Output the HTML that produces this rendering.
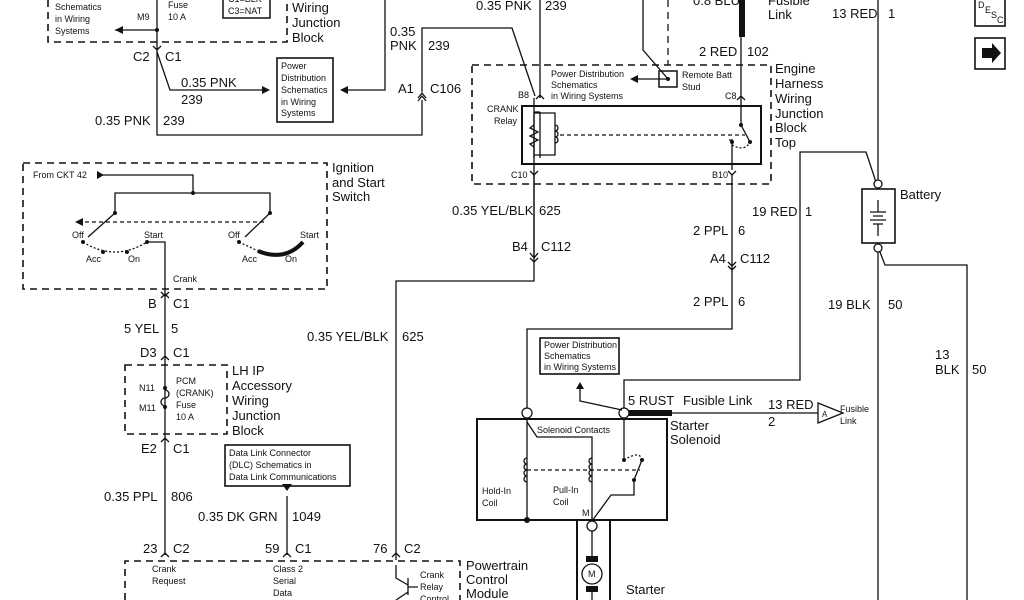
<!DOCTYPE html>
<html><head><meta charset="utf-8"><style>
html,body{margin:0;padding:0;background:#fff;}
svg{display:block;font-family:"Liberation Sans",Arial,sans-serif;}
.l{font-size:13px}
.s{font-size:9px}
.m{font-size:10.5px}
</style></head><body>
<svg width="1024" height="600" viewBox="0 0 1024 600" xmlns="http://www.w3.org/2000/svg">
<rect width="1024" height="600" fill="#fff"/>
<g stroke="#111" fill="none" stroke-width="1.3">
<path d="M48 0 V42 H287 V0" stroke-dasharray="7,5" stroke-width="1.6"/>
<path d="M157 0 V50 M157 30 H115"/>
<rect x="223" y="-5" width="47" height="23" stroke-width="1.5"/>
<path d="M157 50 V135 H422 V100"/>
<path d="M157 52 L170 90 H268"/>
<path d="M385 0 V90 H346"/>
<rect x="277" y="58" width="56" height="64" stroke-width="1.6"/>
<path d="M422 92 V28 H512 L535 96"/>
<path d="M418 98 L422 93 L426 98 M418 101 L422 96 L426 101"/>
<path d="M153 46 L157 50 L161 46"/>
<rect x="23" y="163" width="304" height="126" stroke-dasharray="7,5" stroke-width="1.6"/>
<path d="M100 175 H193 V193 M115 213 V193 H270 V213"/>
<path d="M115 213 L88 237 M270 213 L245 237"/>
<path d="M78 222 H265" stroke-dasharray="4,3"/>
<path d="M83 242 Q115 262 147 242 M239 242 L258 251" stroke-dasharray="2,2"/>
<path d="M258 251 Q285 262 303 242" stroke-width="4"/>
<path d="M147 242 H165 V296"/>
<path d="M161 292 L165 296 L169 292 M161 298 L165 294 L169 298"/>
<path d="M165 296 V434 M161 360 L165 356 L169 360"/>
<rect x="125" y="365" width="102" height="69" stroke-dasharray="7,5" stroke-width="1.6"/>
<path d="M165 434 V555 M161 442 L165 438 L169 442"/>
<path d="M161 557 L165 553 L169 557"/>
<rect x="225" y="445" width="125" height="41" stroke-width="1.6"/>
<path d="M287 496 V555 M283 557 L287 553 L291 557"/>
<path d="M534 164 V281 H396 V560"/>
<path d="M392 557 L396 553 L400 557"/>
<path d="M125 600 V561 H460 V600" stroke-dasharray="7,5" stroke-width="1.6"/>
<path d="M396 565 V578 L408 585 M408 578 V595 M408 587 H418 M396 600 L408 592"/>
<rect x="472" y="65" width="299" height="119" stroke-dasharray="7,5" stroke-width="1.6"/>
<rect x="522" y="106" width="239" height="58" stroke-width="2"/>
<path d="M540 0 V98 M534 98 V164 M536 99 L540 95 L544 99"/>
<path d="M540 112 V158 M534 112 H540"/>
<path d="M534 112 V158 M534 113 H555 V155 H534"/>
<path d="M534 125 l-4 3 8 4 -8 4 8 4 -8 4 4 3"/>
<path d="M555 125 a3 3 0 0 1 0 6 a3 3 0 0 1 0 6 a3 3 0 0 1 0 6"/>
<path d="M560 135 H745" stroke-dasharray="4,3"/>
<path d="M741 37 V125 L750 142 M732 142 V170 M729 140 H733"/>
<path d="M737 100 L741 96 L745 100 M728 171 L732 175 L736 171 M530 171 L534 175 L538 171"/>
<path d="M732 145 Q745 152 750 142" stroke-dasharray="2,2"/>
<path d="M668 0 V65" stroke-dasharray="7,5"/>
<path d="M643 0 V50 L668 79 H637"/>
<rect x="659" y="71" width="18" height="16" stroke-width="1.5"/>
<path d="M534 175 V258 M530 253 L534 258 L538 253 M530 258 L534 262 L538 258"/>
<path d="M732 175 V329 H527 V408 M728 262 L732 266 L736 262 M728 266 L732 270 L736 266"/>
<path d="M878 0 V183 M878 188 L866 152 H800 V380 H624 V408"/>
<rect x="862" y="189" width="33" height="54" stroke-width="1.6"/>
<path d="M878 200 V212 M870 212 H886 M873 216 H883 M870 220 H886 M873 224 H883 M878 224 V236"/>
<circle cx="878" cy="184" r="4" fill="#fff"/>
<circle cx="878" cy="248" r="4" fill="#fff"/>
<path d="M878 252 V600 M880 252 L885 265 H967 V600"/>
<rect x="477" y="419" width="190" height="101" stroke-width="2"/>
<circle cx="527" cy="413" r="5" fill="#fff"/>
<circle cx="624" cy="413" r="5" fill="#fff"/>
<path d="M622 410 L580 401 V387"/>
<path d="M672 413 H818"/>
<path d="M818 403 L843 413 L818 423 Z"/>
<rect x="540" y="338" width="79" height="36" stroke-width="1.6"/>
<path d="M527 418 V520 M527 422 L537 437 H592 V520 M624 418 V458"/>
<path d="M527 458 a3 3 0 0 0 0 6 a3 3 0 0 0 0 6 a3 3 0 0 0 0 6 a3 3 0 0 0 0 6 M592 458 a3 3 0 0 0 0 6 a3 3 0 0 0 0 6 a3 3 0 0 0 0 6 a3 3 0 0 0 0 6"/>
<path d="M527 470 H640" stroke-dasharray="4,3"/>
<path d="M624 460 Q640 450 642 460" stroke-dasharray="2,2"/>
<path d="M642 460 L634 480 V495 H611 L592 521"/>
<circle cx="592" cy="526" r="5" fill="#fff"/>
<path d="M577 520 V600 M610 520 V600" stroke-width="2"/>
<path d="M592 531 V560 M592 588 V600"/>
<circle cx="592" cy="574" r="10"/>
<rect x="975" y="-5" width="30" height="31" stroke-width="1.6"/>
<rect x="975" y="38" width="30" height="31" stroke-width="1.6"/>
</g>
<g fill="#111">
<path d="M115 30 l8 -4 v8 z M270 90 l-8 -4 v8 z M340 90 l8 -4 v8 z M630 79 l8 -4 v8 z M75 222 l8 -4 v8 z M97 171 v8 l7 -4 z M287 491 l-5 -7 h10 z M580 382 l-4 7 h8 z"/>
<rect x="739" y="0" width="6" height="37"/>
<rect x="629" y="410" width="43" height="6"/>
<rect x="586" y="556" width="12" height="6"/><rect x="586" y="586" width="12" height="6"/>
<circle cx="527" cy="520" r="3"/>
<circle cx="157" cy="30" r="2"/><circle cx="193" cy="193" r="2"/>
<circle cx="115" cy="213" r="2"/><circle cx="270" cy="213" r="2"/>
<circle cx="83" cy="242" r="2"/><circle cx="103" cy="252" r="2"/><circle cx="127" cy="252" r="2"/><circle cx="147" cy="242" r="2"/><circle cx="239" cy="242" r="2"/>
<circle cx="741" cy="125" r="2"/><circle cx="750" cy="142" r="2"/><circle cx="732" cy="142" r="2"/><circle cx="668" cy="79" r="2"/>
<circle cx="624" cy="460" r="2"/><circle cx="642" cy="460" r="2"/><circle cx="634" cy="480" r="2"/>
<circle cx="165" cy="388" r="2"/><circle cx="165" cy="407" r="2"/>
<path d="M982 48 h10 v-5 l9 10 -9 10 v-5 h-10 z"/>
</g>
<path d="M165 390 a4 4 0 0 1 0 8 a4 4 0 0 0 0 8" stroke="#111" fill="none" stroke-width="1.3"/>
<g fill="#111">
<text class="s" x="55" y="10">Schematics</text><text class="s" x="55" y="22">in Wiring</text><text class="s" x="55" y="34">Systems</text>
<text class="s" x="137" y="20">M9</text><text class="s" x="168" y="8">Fuse</text><text class="s" x="168" y="20">10 A</text>
<text class="s" x="228" y="2">C1=BLK</text><text class="s" x="228" y="14">C3=NAT</text>
<text class="l" x="292" y="12">Wiring</text><text class="l" x="292" y="27">Junction</text><text class="l" x="292" y="42">Block</text>
<text class="l" x="133" y="61">C2</text><text class="l" x="165" y="61">C1</text>
<text class="l" x="181" y="87">0.35 PNK</text><text class="l" x="181" y="104">239</text>
<text class="l" x="95" y="125">0.35 PNK</text><text class="l" x="163" y="125">239</text>
<text class="s" x="281" y="69">Power</text><text class="s" x="281" y="81">Distribution</text><text class="s" x="281" y="93">Schematics</text><text class="s" x="281" y="105">in Wiring</text><text class="s" x="281" y="116">Systems</text>
<text class="l" x="390" y="36">0.35</text><text class="l" x="390" y="50">PNK</text><text class="l" x="428" y="50">239</text>
<text class="l" x="398" y="93">A1</text><text class="l" x="430" y="93">C106</text>
<text class="l" x="476" y="10">0.35 PNK</text><text class="l" x="545" y="10">239</text>
<text class="s" x="33" y="178">From CKT 42</text>
<text class="l" x="332" y="172">Ignition</text><text class="l" x="332" y="187">and Start</text><text class="l" x="332" y="201">Switch</text>
<text class="s" x="72" y="238">Off</text><text class="s" x="144" y="238">Start</text><text class="s" x="86" y="262">Acc</text><text class="s" x="128" y="262">On</text>
<text class="s" x="228" y="238">Off</text><text class="s" x="300" y="238">Start</text><text class="s" x="242" y="262">Acc</text><text class="s" x="285" y="262">On</text>
<text class="s" x="173" y="282">Crank</text>
<text class="l" x="148" y="308">B</text><text class="l" x="173" y="308">C1</text>
<text class="l" x="124" y="333">5 YEL</text><text class="l" x="171" y="333">5</text>
<text class="l" x="140" y="357">D3</text><text class="l" x="173" y="357">C1</text>
<text class="s" x="139" y="391">N11</text><text class="s" x="139" y="411">M11</text>
<text class="s" x="176" y="384">PCM</text><text class="s" x="176" y="396">(CRANK)</text><text class="s" x="176" y="408">Fuse</text><text class="s" x="176" y="420">10 A</text>
<text class="l" x="232" y="375">LH IP</text><text class="l" x="232" y="390">Accessory</text><text class="l" x="232" y="405">Wiring</text><text class="l" x="232" y="420">Junction</text><text class="l" x="232" y="435">Block</text>
<text class="l" x="141" y="453">E2</text><text class="l" x="173" y="453">C1</text>
<text class="s" x="229" y="456">Data Link Connector</text><text class="s" x="229" y="468">(DLC) Schematics in</text><text class="s" x="229" y="480">Data Link Communications</text>
<text class="l" x="104" y="501">0.35 PPL</text><text class="l" x="171" y="501">806</text>
<text class="l" x="198" y="521">0.35 DK GRN</text><text class="l" x="292" y="521">1049</text>
<text class="l" x="307" y="341">0.35 YEL/BLK</text><text class="l" x="402" y="341">625</text>
<text class="l" x="143" y="553">23</text><text class="l" x="173" y="553">C2</text>
<text class="l" x="265" y="553">59</text><text class="l" x="295" y="553">C1</text>
<text class="l" x="373" y="553">76</text><text class="l" x="404" y="553">C2</text>
<text class="s" x="152" y="572">Crank</text><text class="s" x="152" y="584">Request</text>
<text class="s" x="273" y="572">Class 2</text><text class="s" x="273" y="584">Serial</text><text class="s" x="273" y="596">Data</text>
<text class="s" x="420" y="578">Crank</text><text class="s" x="420" y="590">Relay</text><text class="s" x="420" y="602">Control</text>
<text class="l" x="466" y="570">Powertrain</text><text class="l" x="466" y="584">Control</text><text class="l" x="466" y="598">Module</text>
<text class="s" x="551" y="77">Power Distribution</text><text class="s" x="551" y="88">Schematics</text><text class="s" x="551" y="99">in Wiring Systems</text>
<text class="s" x="682" y="78">Remote Batt</text><text class="s" x="682" y="90">Stud</text>
<text class="s" x="518" y="98">B8</text><text class="s" x="725" y="99">C8</text>
<text class="s" x="487" y="112">CRANK</text><text class="s" x="494" y="124">Relay</text>
<text class="s" x="511" y="178">C10</text><text class="s" x="712" y="178">B10</text>
<text class="l" x="693" y="5">0.8 BLU</text><text class="l" x="768" y="5">Fusible</text><text class="l" x="768" y="19">Link</text>
<text class="l" x="699" y="56">2 RED</text><text class="l" x="747" y="56">102</text>
<text class="l" x="775" y="73">Engine</text><text class="l" x="775" y="88">Harness</text><text class="l" x="775" y="103">Wiring</text><text class="l" x="775" y="118">Junction</text><text class="l" x="775" y="132">Block</text><text class="l" x="775" y="147">Top</text>
<text class="l" x="452" y="215">0.35 YEL/BLK</text><text class="l" x="539" y="215">625</text>
<text class="l" x="512" y="251">B4</text><text class="l" x="541" y="251">C112</text>
<text class="l" x="752" y="216">19 RED</text><text class="l" x="805" y="216">1</text>
<text class="l" x="693" y="235">2 PPL</text><text class="l" x="738" y="235">6</text>
<text class="l" x="710" y="263">A4</text><text class="l" x="740" y="263">C112</text>
<text class="l" x="693" y="306">2 PPL</text><text class="l" x="738" y="306">6</text>
<text class="l" x="832" y="18">13 RED</text><text class="l" x="888" y="18">1</text>
<text class="l" x="900" y="199">Battery</text>
<text class="l" x="828" y="309">19 BLK</text><text class="l" x="888" y="309">50</text>
<text class="l" x="935" y="359">13</text><text class="l" x="935" y="374">BLK</text><text class="l" x="972" y="374">50</text>
<text class="s" x="544" y="348">Power Distribution</text><text class="s" x="544" y="359">Schematics</text><text class="s" x="544" y="370">in Wiring Systems</text>
<text class="l" x="628" y="405">5 RUST</text><text class="l" x="683" y="405">Fusible Link</text>
<text class="l" x="768" y="409">13 RED</text><text class="l" x="768" y="426">2</text>
<text x="822" y="417" style="font-size:8px">A</text>
<text class="s" x="840" y="412">Fusible</text><text class="s" x="840" y="424">Link</text>
<text class="l" x="670" y="430">Starter</text><text class="l" x="670" y="444">Solenoid</text>
<text class="s" x="537" y="433">Solenoid Contacts</text>
<text class="s" x="482" y="494">Hold-In</text><text class="s" x="482" y="506">Coil</text>
<text class="s" x="553" y="493">Pull-In</text><text class="s" x="553" y="505">Coil</text>
<text class="s" x="582" y="516">M</text>
<text class="s" x="588" y="577">M</text>
<text class="l" x="626" y="594">Starter</text>
<text class="s" x="978" y="8">D</text><text class="s" x="985" y="13">E</text><text class="s" x="991" y="18">S</text><text class="s" x="997" y="23">C</text>
</g>
</svg>
</body></html>
